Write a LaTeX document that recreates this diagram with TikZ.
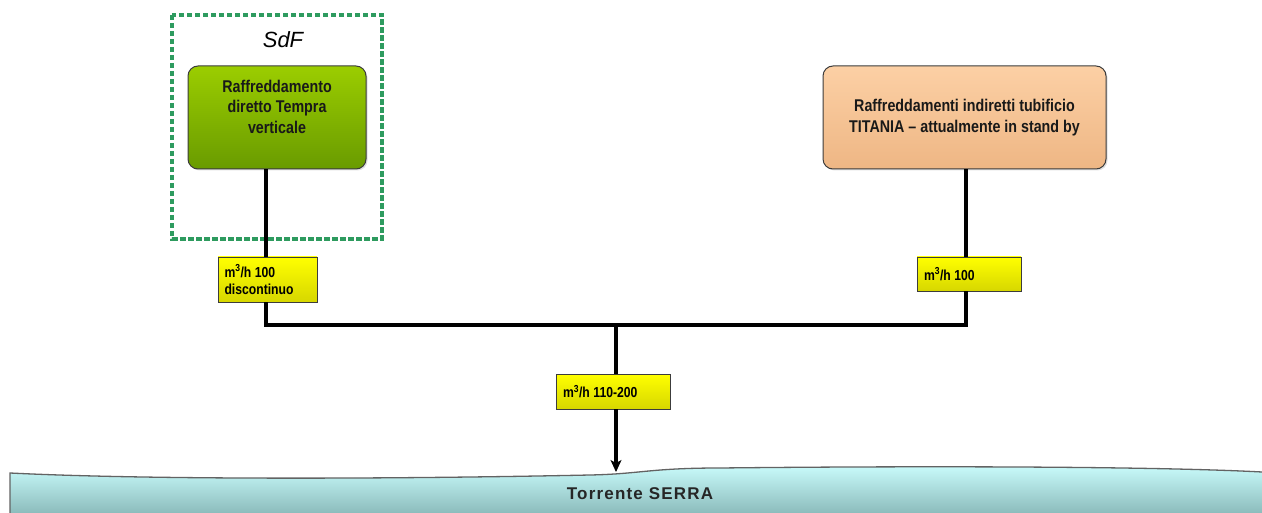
\documentclass[tikz,border=0pt]{standalone}
\usepackage{fontspec}
\setmainfont{Liberation Sans}[FakeStretch=0.84]
\newfontfamily\riverfont{Liberation Sans}[LetterSpace=7]
\newfontfamily\widefont{Liberation Sans}
\usetikzlibrary{arrows.meta,shadows}
\definecolor{sdfgreen}{RGB}{46,155,95}
\definecolor{gtop}{RGB}{155,205,0}
\definecolor{gbot}{RGB}{105,155,0}
\definecolor{otop}{RGB}{252,208,165}
\definecolor{obot}{RGB}{238,182,132}
\definecolor{ytop}{RGB}{255,255,0}
\definecolor{ybot}{RGB}{215,215,0}
\definecolor{rtop}{RGB}{200,250,250}
\definecolor{rbot}{RGB}{140,188,188}
\definecolor{edge}{RGB}{60,60,60}
\newcommand{\mch}{m\textsuperscript{3}/h\hspace{3.5pt}}
\tikzset{
  procbox/.style={draw=edge, line width=1pt, rounded corners=10pt, inner sep=0pt,
    drop shadow={opacity=0.25, shadow xshift=1.5pt, shadow yshift=-1.5pt}},
  flowlabel/.style={draw=edge, line width=0.9pt, top color=ytop, bottom color=ybot,
    inner sep=0pt, font=\bfseries\fontsize{14.5}{17}\selectfont, align=left,
    drop shadow={opacity=0.2, shadow xshift=1pt, shadow yshift=-1pt}},
  pipe/.style={line width=3.2pt, black},
  boxtext/.style={font=\bfseries\fontsize{17}{20.5}\selectfont, align=center, text=black!90},
}
\begin{document}
\begin{tikzpicture}[x=1pt,y=-1pt]
\useasboundingbox (0,0) rectangle (1262,513);
% SdF frame
\draw[sdfgreen, line width=3.6pt, dash pattern=on 5.5pt off 2.5pt] (172,15) rectangle (382,239);
\node[font=\widefont\itshape\fontsize{22}{22}\selectfont] (sdf) at (283,40) {SdF};
% process boxes
\node[procbox, top color=gtop, bottom color=gbot, minimum width=178pt, minimum height=103pt] (g) at (277,117.5) {};
\node[boxtext] (gt) at (277,106.5) {Raffreddamento\\diretto Tempra\\verticale};
\node[procbox, top color=otop, bottom color=obot, minimum width=283pt, minimum height=103pt] (o) at (964.5,117.5) {};
\node[boxtext] (ot) at (964.5,117.5) {Raffreddamenti indiretti tubificio\\TITANIA -- attualmente in stand by};
% junctions
\coordinate (j1) at (266,325);
\coordinate (j2) at (966,325);
\coordinate (jm) at (616,325);
\coordinate (riv) at (616,472);
% flow labels
\node[flowlabel, minimum width=99pt, minimum height=45pt, text width=86pt] (l1) at (267.5,279.5) {\mch 100\\discontinuo};
\node[flowlabel, minimum width=104pt, minimum height=34pt, text width=90pt] (l2) at (969,274) {\mch 100};
\node[flowlabel, minimum width=114pt, minimum height=35pt, text width=100pt] (l3) at (613,391.5) {\mch 110-200};
% river
\path[top color=rtop, bottom color=rbot]
  (10,473) .. controls (150,480) and (400,479) .. (590,475)
  .. controls (640,474) and (650,468) .. (720,468)
  .. controls (900,466) and (1150,466) .. (1262,472)
  -- (1262,513) -- (10,513) -- cycle;
\draw[edge!80, line width=1.3pt]
  (10,513) -- (10,473) .. controls (150,480) and (400,479) .. (590,475)
  .. controls (640,474) and (650,468) .. (720,468)
  .. controls (900,466) and (1150,466) .. (1262,472);
\node[font=\bfseries\fontsize{17}{17}\selectfont, text=black!85] (rt) at (640,494) {{\riverfont Torrente SERRA}};
% pipes
\draw[pipe] (g.south -| j1) -- (l1.north -| j1);
\draw[pipe] (o.south -| j2) -- (l2.north -| j2);
\draw[pipe] (l1.south -| j1) -- (j1) -- (j2) -- (l2.south -| j2);
\draw[pipe] (jm) -- (l3.north -| jm);
\draw[pipe, shorten >=8pt] (l3.south -| jm) -- (riv);
\draw[line width=1pt, -{Stealth[length=12pt,width=11pt,inset=3pt]}, shorten <=50pt] (l3.south -| jm) -- (riv);
\end{tikzpicture}
\end{document}
